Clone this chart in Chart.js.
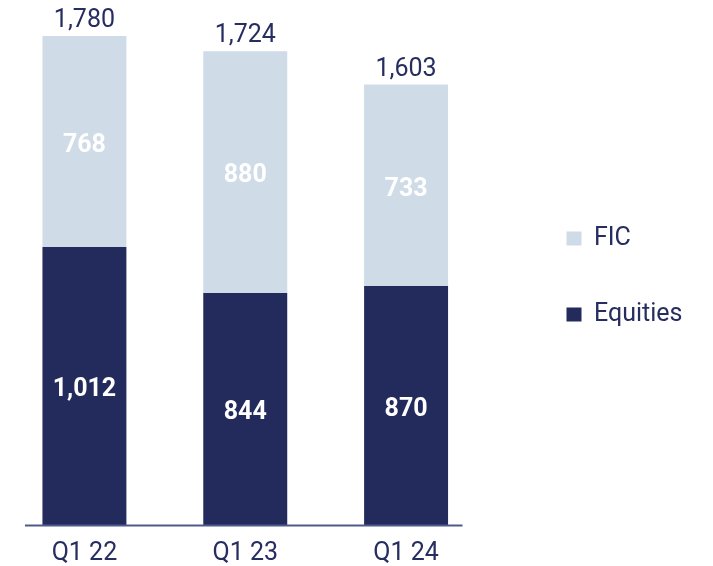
<!DOCTYPE html>
<html>
<head>
<meta charset="utf-8">
<script src="https://cdn.jsdelivr.net/npm/chart.js@4"></script>
<style>
  html, body { margin: 0; padding: 0; background: #fff; }
  #wrap { width: 713px; height: 566px; }
</style>
</head>
<body>
<div id="wrap"><canvas id="barras"></canvas></div>
<script>
// DATOS
const categories = ["Q1 22", "Q1 23", "Q1 24"];
const equities = [1012, 844, 870];
const fic = [768, 880, 733];

const NAVY = "#232a5c";
const LIGHT = "#cfdbe7";
const TEXT = "#262d5f";
const FONT = "Roboto";

const fmt = v => v.toLocaleString("en-US");

// etiquetas dentro y arriba de las barras
const etiquetas = {
  id: "etiquetas",
  afterDatasetsDraw(chart) {
    const ctx = chart.ctx;
    ctx.save();
    ctx.textAlign = "center";
    chart.data.datasets.forEach((ds, i) => {
      const meta = chart.getDatasetMeta(i);
      meta.data.forEach((bar, j) => {
        ctx.fillStyle = "#ffffff";
        ctx.font = "bold 25px " + FONT;
        ctx.textBaseline = "middle";
        ctx.fillText(fmt(ds.data[j]), bar.x, (bar.y + bar.base) / 2 + 4);
      });
    });
    // totales
    const top = chart.getDatasetMeta(chart.data.datasets.length - 1);
    top.data.forEach((bar, j) => {
      const total = equities[j] + fic[j];
      ctx.fillStyle = TEXT;
      ctx.font = "25px " + FONT;
      ctx.textBaseline = "alphabetic";
      ctx.fillText(fmt(total), bar.x, bar.y - 9);
    });
    // linea base
    const x = chart.scales.x;
    const y0 = Math.round(chart.scales.y.getPixelForValue(0)) + 0.5;
    ctx.strokeStyle = "#4f5a8a";
    ctx.lineWidth = 2;
    ctx.beginPath();
    ctx.moveTo(x.left + 21, y0);
    ctx.lineTo(x.right - 24, y0);
    ctx.stroke();
    ctx.restore();
  }
};

const data = {
  labels: categories,
  datasets: [
    { label: "Equities", data: equities, backgroundColor: NAVY },
    { label: "FIC", data: fic, backgroundColor: LIGHT }
  ]
};

const config = {
  type: "bar",
  data: data,
  options: {
    responsive: true,
    maintainAspectRatio: false,
    animation: false,
    datasets: { bar: { categoryPercentage: 1, barPercentage: 0.522 } },
    layout: { padding: { left: 4, right: 27, top: 28, bottom: 0 } },
    scales: {
      x: {
        stacked: true,
        grid: { display: false, drawTicks: false },
        border: { display: false },
        ticks: { color: TEXT, font: { family: FONT, size: 25 }, padding: 14 },
        afterFit: s => { s.height = 41; }
      },
      y: {
        stacked: true,
        position: "right",
        min: 0,
        max: 1809,
        grid: { display: false, drawTicks: false },
        border: { display: false },
        ticks: { display: false },
        afterFit: s => { s.width = 29; }
      }
    },
    plugins: {
      tooltip: { enabled: false },
      legend: {
        position: "right",
        fullSize: false,
        reverse: true,
        labels: {
          color: TEXT,
          font: { family: FONT, size: 25 },
          boxWidth: 15,
          boxHeight: 14,
          padding: 51
        }
      }
    }
  },
  plugins: [etiquetas]
};
new Chart(document.getElementById("barras"), config);
</script>
</body>
</html>
